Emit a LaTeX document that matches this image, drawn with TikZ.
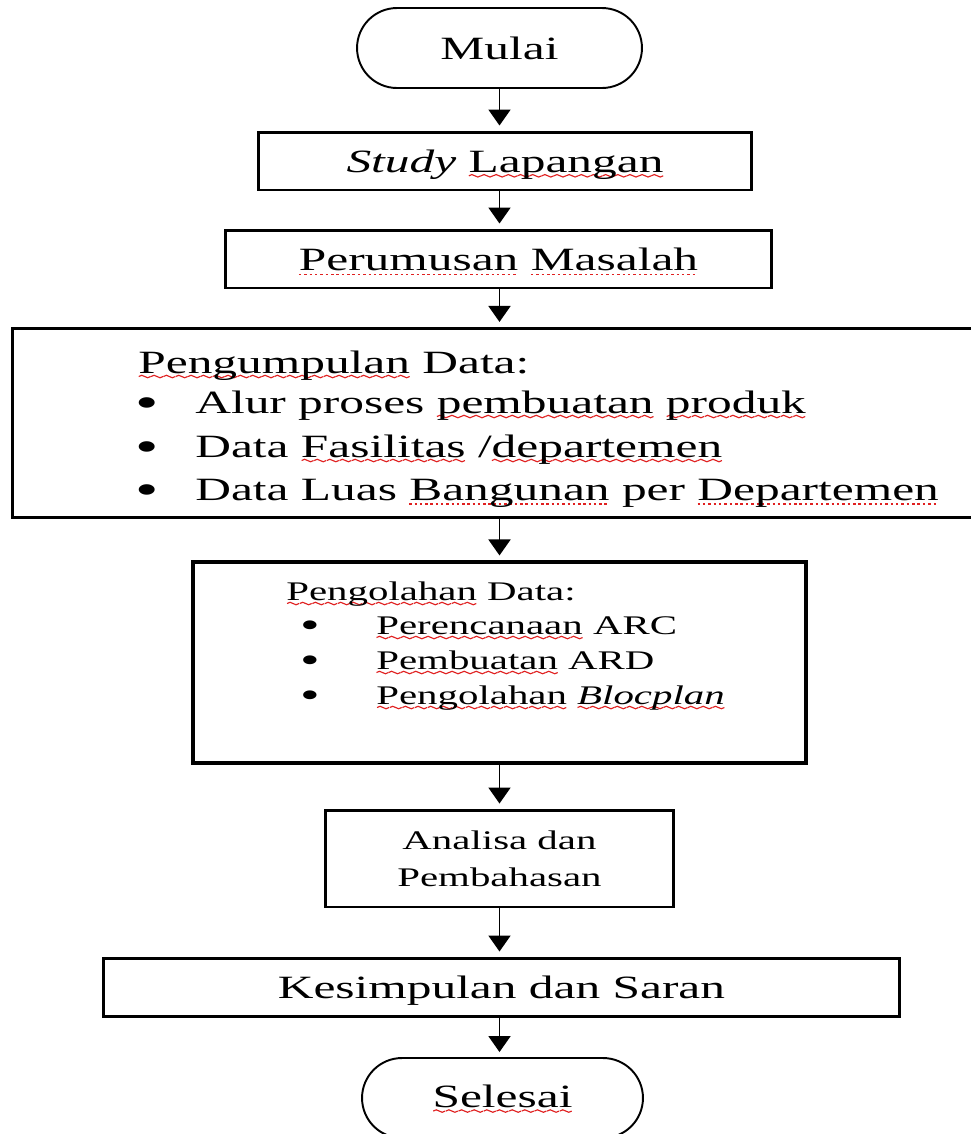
\documentclass[tikz,border=0pt]{standalone}
\usepackage{fontspec}
\setmainfont{Liberation Serif}[FakeStretch=1.52]
\usepackage{xcolor}
\usepackage{tikz}
\usetikzlibrary{arrows.meta,positioning}
\definecolor{fcink}{HTML}{000000}
\definecolor{fcwave}{HTML}{E02020}
\newcommand\bigfont{\fontsize{18.5}{22}\selectfont}
\newcommand\smallfont{\fontsize{15.3}{21}\selectfont}
% spell-check marks under words
\newsavebox\wavepiece
\sbox\wavepiece{\tikz[baseline=0pt]{\path[use as bounding box] (0,0) rectangle (6.8pt,0.1pt);
  \draw[overlay,fcwave,line width=0.65pt] (0,0) sin (1.7pt,0.7pt) cos (3.4pt,0) sin (5.1pt,-0.7pt) cos (6.8pt,0);}}
\newsavebox\dotpiece
\sbox\dotpiece{\textcolor{fcwave}{\rule{1.4pt}{0.7pt}}\kern1.6pt}
\newsavebox\wordbox
\newcommand\redwave[1]{\sbox\wordbox{#1}\rlap{\lower2pt\hbox to\wd\wordbox{\xleaders\copy\wavepiece\hfil}}\usebox\wordbox}
\newcommand\reddots[1]{\sbox\wordbox{#1}\rlap{\lower2.6pt\hbox to\wd\wordbox{\xleaders\copy\dotpiece\hfil}}\usebox\wordbox}
\tikzset{
  term/.style={rectangle,rounded corners=8mm,draw=fcink,line width=1.1pt,
               minimum width=5.7cm,minimum height=1.6cm,font=\bigfont},
  procbox/.style={rectangle,draw=fcink,line width=1.7pt,minimum height=1.16cm,
                  text depth=0pt,font=\bigfont},
  listbox/.style={rectangle,draw=fcink,line width=1.8pt},
  listline/.style={anchor=base west,inner sep=0pt},
  bigdot/.style={anchor=base,inner sep=0pt,font=\fontsize{25}{25}\selectfont},
  smalldot/.style={anchor=base,inner sep=0pt,font=\fontsize{21}{21}\selectfont},
  flow/.style={-{Triangle[length=3.2mm,width=4.4mm]},line width=1.1pt,draw=fcink,
               shorten >=1mm},
}
\begin{document}
\begin{tikzpicture}[x=0.02cm,y=-0.02cm]
  \useasboundingbox (0,0) rectangle (971,1134);
  % boxes
  \node[term] (mulai) at (499.5,48) {Mulai};
  \node[procbox,minimum width=9.88cm] (study) at (505,161) {\textit{Study} \redwave{Lapangan}};
  \node[procbox,minimum width=10.94cm] (rumusan) at (498.5,259) {\reddots{Perumusan} \reddots{Masalah}};
  \node[listbox,minimum width=19.52cm,minimum height=3.78cm] (kumpul) at (500,423) {};
  \node[listbox,minimum width=12.26cm,minimum height=4.02cm] (olah) at (499.5,662.5) {};
  \node[procbox,minimum width=6.98cm,minimum height=1.94cm,align=center,font=\smallfont] (analisa) at (499.5,858.5) {Analisa dan\\Pembahasan};
  \node[procbox,minimum width=15.94cm] (simpul) at (501.5,987) {Kesimpulan dan Saran};
  \node[term,minimum width=5.62cm] (selesai) at (502.5,1098) {\redwave{Selesai}};

  % Pengumpulan Data list
  \node[listline,font=\bigfont] (kumpul-h) at (138,373) {\redwave{Pengumpulan} Data:};
  \foreach \y/\t [count=\i] in {413/{Alur proses \redwave{pembuatan} \redwave{produk}},
                                457/{Data \redwave{Fasilitas} /\redwave{departemen}},
                                500/{Data Luas \reddots{Bangunan} per \reddots{Departemen}}} {
    \node[bigdot] (kumpul-b\i) at (147,\y+4) {\textbullet};
    \node[listline,font=\bigfont] (kumpul-\i) at (195,\y) {\t};
  }

  % Pengolahan Data list
  \node[listline,font=\smallfont] (olah-h) at (286,600) {\redwave{Pengolahan} Data:};
  \foreach \y/\t [count=\i] in {634/{\redwave{Perencanaan} ARC},
                                669/{\redwave{Pembuatan} ARD},
                                704/{\redwave{Pengolahan} \redwave{\textit{Blocplan}}}} {
    \node[smalldot] (olah-b\i) at (310,\y+3.5) {\textbullet};
    \node[listline,font=\smallfont] (olah-\i) at (376,\y) {\t};
  }

  % arrows
  \foreach \a/\b in {mulai/study,study/rumusan,rumusan/kumpul,kumpul/olah,
                     olah/analisa,analisa/simpul,simpul/selesai}
    \draw[flow] (mulai.south |- \a.south) -- (mulai.south |- \b.north);
\end{tikzpicture}
\end{document}
